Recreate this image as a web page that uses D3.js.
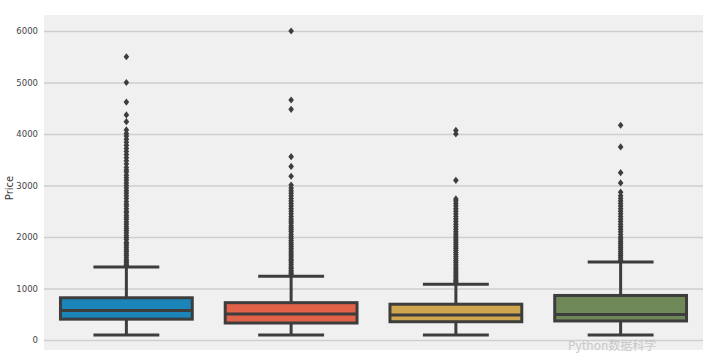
<!doctype html>
<html lang="en">
  <head>
    <meta charset="UTF-8" />
    <title>Price boxplot</title>
    <script src="https://d3js.org/d3.v7.min.js"></script>
    <style>
      body {
        margin: 0;
        background-color: #ffffff;
      }

      .tick text {
        font-family: 'DejaVu Sans', sans-serif;
        font-size: 8.5px;
        fill: #444;
      }

      .grid line {
        stroke: #cfcfcf;
        stroke-width: 1.3px;
      }

      .y-axis-label {
        font-family: 'DejaVu Sans', sans-serif;
        font-size: 10px;
        fill: #333;
        text-anchor: middle;
      }

      .watermark {
        font-family: 'Noto Sans CJK SC', 'Noto Sans', sans-serif;
        font-size: 12px;
        fill: #c8c8c8;
      }
    </style>
  </head>
  <body>
    <svg id="chart" width="723" height="353"></svg>

    <script>
      // Categories (x labels are cut off in the picture)
      const categories = ['A', 'B', 'C', 'D']

      // Box statistics
      const q1 = [405, 330, 355, 370]
      const medians = [575, 505, 485, 495]
      const q3 = [820, 725, 695, 865]
      const whiskerLow = [95, 95, 95, 95]
      const whiskerHigh = [1420, 1240, 1085, 1515]

      // Outliers for each box
      const outliersA = [
        1440, 1470, 1500, 1530, 1560, 1600, 1640, 1680, 1720, 1750, 1790, 1830, 1870, 1900,
        1950, 1990, 2030, 2080, 2120, 2160, 2200, 2250, 2290, 2340, 2380, 2420, 2470, 2500,
        2550, 2600, 2640, 2690, 2750, 2800, 2850, 2900, 2950, 3000, 3050, 3100, 3150, 3200,
        3260, 3300, 3350, 3420, 3480, 3540, 3600, 3660, 3720, 3780, 3840, 3900, 3960, 4010,
        4080, 4240, 4370, 4620, 5000, 5500,
      ]
      const outliersB = [
        1260, 1290, 1320, 1350, 1390, 1420, 1460, 1500, 1540, 1570, 1610, 1650, 1690, 1730,
        1770, 1810, 1850, 1890, 1930, 1970, 2010, 2050, 2100, 2140, 2180, 2220, 2270, 2310,
        2350, 2400, 2450, 2500, 2550, 2600, 2650, 2700, 2750, 2800, 2850, 2900, 2950, 3010,
        3180, 3370, 3560, 4480, 4660, 6000,
      ]
      const outliersC = [
        1100, 1130, 1160, 1190, 1230, 1260, 1300, 1340, 1380, 1420, 1460, 1500, 1540, 1580,
        1620, 1660, 1700, 1740, 1780, 1820, 1860, 1900, 1940, 1980, 2020, 2060, 2100, 2150,
        2200, 2250, 2300, 2350, 2400, 2450, 2500, 2550, 2600, 2650, 2700, 2740, 3100, 4000,
        4070,
      ]
      const outliersD = [
        1530, 1560, 1600, 1640, 1680, 1720, 1760, 1800, 1840, 1880, 1920, 1960, 2000, 2050,
        2100, 2150, 2200, 2250, 2300, 2350, 2400, 2450, 2500, 2550, 2600, 2650, 2700, 2750,
        2800, 2870, 3050, 3250, 3750, 4170,
      ]
      const outliers = [outliersA, outliersB, outliersC, outliersD]

      // Tick values on the y axis
      const yTicks = [0, 1000, 2000, 3000, 4000, 5000, 6000]

      // Desaturated fivethirtyeight colours, as seaborn draws them
      const fills = ['#1b85ba', '#e26149', '#cfa64e', '#6e8857']
      const lineColor = '#3d3d3d'

      const svg = d3.select('#chart')
      const plot = { left: 44, right: 703, top: 15, bottom: 350 }

      const x = d3
        .scaleBand()
        .domain(categories)
        .range([plot.left, plot.right])
        .padding(0)

      const y = d3.scaleLinear().domain([-194, 6311]).range([plot.bottom, plot.top])

      // Plot background
      svg
        .append('rect')
        .attr('x', plot.left)
        .attr('y', plot.top)
        .attr('width', plot.right - plot.left)
        .attr('height', plot.bottom - plot.top)
        .attr('fill', '#f0f0f0')

      // Horizontal gridlines
      svg
        .append('g')
        .attr('class', 'grid')
        .attr('transform', `translate(${plot.left},0)`)
        .call(
          d3
            .axisLeft(y)
            .tickValues(yTicks)
            .tickSize(-(plot.right - plot.left))
            .tickFormat('')
        )
        .call((g) => g.select('.domain').remove())

      // Y axis labels
      svg
        .append('g')
        .attr('transform', `translate(${plot.left - 2},0)`)
        .call(d3.axisLeft(y).tickValues(yTicks).tickSize(0).tickPadding(4).tickFormat(d3.format('d')))
        .call((g) => g.select('.domain').remove())

      svg
        .append('text')
        .attr('class', 'y-axis-label')
        .attr('transform', `translate(13,188) rotate(-90)`)
        .text('Price')

      const boxWidth = x.bandwidth() * 0.8
      const capWidth = boxWidth * 0.5

      const groups = svg
        .selectAll('.box')
        .data(categories)
        .enter()
        .append('g')
        .attr('class', 'box')

      // Whiskers
      groups
        .append('line')
        .attr('x1', (d) => x(d) + x.bandwidth() / 2)
        .attr('x2', (d) => x(d) + x.bandwidth() / 2)
        .attr('y1', (d, i) => y(whiskerHigh[i]))
        .attr('y2', (d, i) => y(q3[i]))
        .attr('stroke', lineColor)
        .attr('stroke-width', 3)

      groups
        .append('line')
        .attr('x1', (d) => x(d) + x.bandwidth() / 2)
        .attr('x2', (d) => x(d) + x.bandwidth() / 2)
        .attr('y1', (d, i) => y(q1[i]))
        .attr('y2', (d, i) => y(whiskerLow[i]))
        .attr('stroke', lineColor)
        .attr('stroke-width', 3)

      // Caps
      ;[whiskerHigh, whiskerLow].forEach((vals) => {
        groups
          .append('line')
          .attr('x1', (d) => x(d) + x.bandwidth() / 2 - capWidth / 2)
          .attr('x2', (d) => x(d) + x.bandwidth() / 2 + capWidth / 2)
          .attr('y1', (d, i) => y(vals[i]))
          .attr('y2', (d, i) => y(vals[i]))
          .attr('stroke', lineColor)
          .attr('stroke-width', 3)
      })

      // Outliers as diamonds
      const diamond = 'M0,-3.6L2.8,0L0,3.6L-2.8,0Z'
      groups
        .selectAll('.flier')
        .data((d, i) => outliers[i].map((v) => ({ cat: d, v })))
        .enter()
        .append('path')
        .attr('class', 'flier')
        .attr('d', diamond)
        .attr('transform', (p) => `translate(${x(p.cat) + x.bandwidth() / 2},${y(p.v)})`)
        .attr('fill', lineColor)

      // Boxes
      groups
        .append('rect')
        .attr('x', (d) => x(d) + (x.bandwidth() - boxWidth) / 2)
        .attr('y', (d, i) => y(q3[i]))
        .attr('width', boxWidth)
        .attr('height', (d, i) => y(q1[i]) - y(q3[i]))
        .attr('fill', (d, i) => fills[i])
        .attr('stroke', lineColor)
        .attr('stroke-width', 3)

      // Medians
      groups
        .append('line')
        .attr('x1', (d) => x(d) + (x.bandwidth() - boxWidth) / 2)
        .attr('x2', (d) => x(d) + (x.bandwidth() + boxWidth) / 2)
        .attr('y1', (d, i) => y(medians[i]))
        .attr('y2', (d, i) => y(medians[i]))
        .attr('stroke', lineColor)
        .attr('stroke-width', 3)

      // Watermark at the lower right
      svg
        .append('text')
        .attr('class', 'watermark')
        .attr('x', 568)
        .attr('y', 350)
        .text('Python数据科学')
    </script>
  </body>
</html>
